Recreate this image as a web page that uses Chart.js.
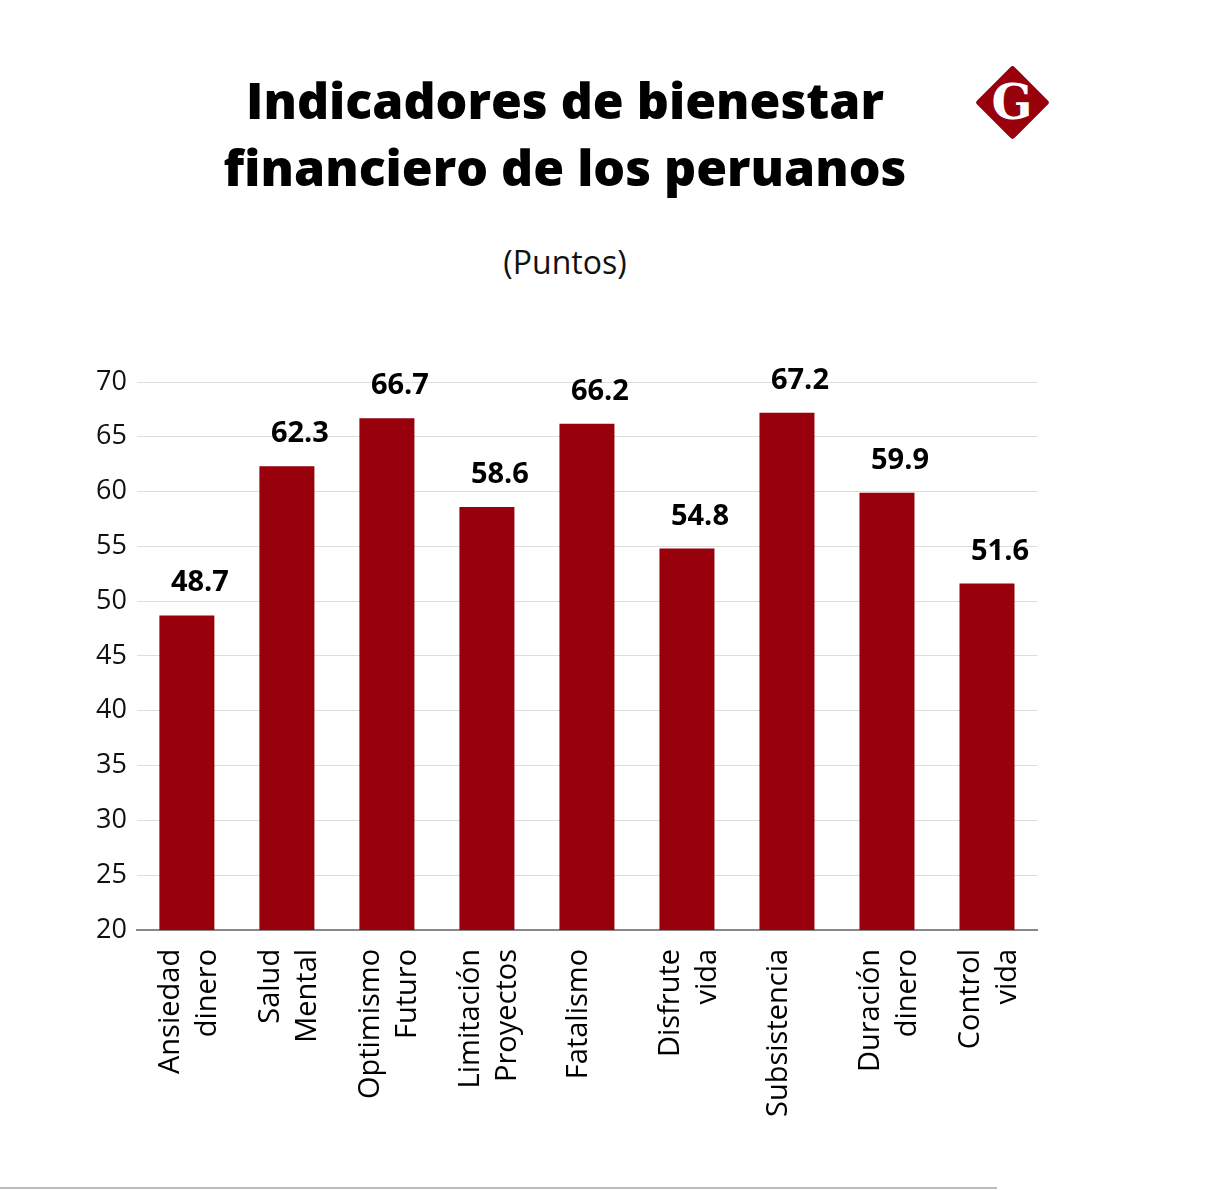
<!DOCTYPE html>
<html>
<head>
<meta charset="utf-8">
<script src="https://cdn.jsdelivr.net/npm/chart.js@4"></script>
<style>
  html, body { margin: 0; padding: 0; background: #fff; }
  body { width: 1208px; height: 1190px; position: relative; overflow: hidden; }
  #titulo {
    position: absolute; left: 0; width: 1130px; top: 67px; text-align: center;
    font-family: "Open Sans", sans-serif; font-weight: 800; font-size: 50px;
    line-height: 67px; color: #000;
  }
  #subtitulo {
    position: absolute; left: 0; width: 1130px; top: 240px; text-align: center;
    font-family: "Open Sans", sans-serif; font-size: 32px; color: #111;
  }
  #logo {
    position: absolute; left: 986px; top: 76px; width: 53px; height: 53px;
    background: #98000b; transform: rotate(45deg); border-radius: 3px;
  }
  #logoG {
    position: absolute; left: 974px; top: 73px; width: 76px; text-align: center;
    font-family: "DejaVu Serif", "Liberation Serif", serif; font-weight: bold;
    font-size: 48px; line-height: 58px; color: #fff;
  }
  #linea {
    position: absolute; left: 0; top: 1187px; width: 997px; height: 2px; background: #bbb;
  }
  #wrap { position: absolute; left: 0; top: 0; width: 1208px; height: 1190px; }
</style>
</head>
<body>
<div id="titulo">Indicadores de bienestar<br>financiero de los peruanos</div>
<div id="subtitulo">(Puntos)</div>
<div id="logo"></div>
<div id="logoG">G</div>
<div id="wrap"><canvas id="grafico"></canvas></div>
<div id="linea"></div>
<script>
const categorias = [
  ["Ansiedad", "dinero"],
  ["Salud", "Mental"],
  ["Optimismo", "Futuro"],
  ["Limitación", "Proyectos"],
  "Fatalismo",
  ["Disfrute", "vida"],
  "Subsistencia",
  ["Duración", "dinero"],
  ["Control", "vida"],
];
const puntos = [48.7, 62.3, 66.7, 58.6, 66.2, 54.8, 67.2, 59.9, 51.6];
const ejeMin = 20;
const ejeMax = 70;
const paso = 5;

const colorBarra = "#98000b";

// etiquetas de valor encima de cada barra
const etiquetasValor = {
  id: "etiquetasValor",
  afterDatasetsDraw(chart) {
    const ctx = chart.ctx;
    const meta = chart.getDatasetMeta(0);
    ctx.save();
    ctx.font = "bold 29px 'Open Sans', sans-serif";
    ctx.fillStyle = "#000";
    ctx.textAlign = "center";
    ctx.textBaseline = "alphabetic";
    meta.data.forEach((bar, i) => {
      ctx.fillText(puntos[i].toFixed(1), bar.x + 13, bar.y - 24);
    });
    ctx.restore();
  },
};

// las etiquetas de una sola linea llevan una linea vacia delante
// para que queden centradas bajo la barra
function esDoble(i) {
  return Array.isArray(categorias[i]);
}

const ctx = document.getElementById("grafico");
new Chart(ctx, {
  type: "bar",
  data: {
    labels: categorias,
    datasets: [
      {
        data: puntos,
        backgroundColor: colorBarra,
        barPercentage: 0.55,
        categoryPercentage: 1,
      },
    ],
  },
  options: {
    responsive: true,
    maintainAspectRatio: false,
    animation: false,
    layout: {
      padding: { top: 382, left: 86, right: 171, bottom: 54 },
    },
    plugins: {
      legend: { display: false },
      tooltip: { enabled: false },
    },
    scales: {
      x: {
        grid: { display: false, drawTicks: false },
        border: { color: "#888", width: 2 },
        ticks: {
          autoSkip: false,
          minRotation: 90,
          maxRotation: 90,
          padding: 19,
          labelOffset: -16,
          color: "#000",
          callback: (v, i) => (esDoble(i) ? categorias[i] : ["", categorias[i]]),
          font: (c) => ({
            family: "'Open Sans', sans-serif",
            size: 29,
            lineHeight: esDoble(c.index) ? "37px" : "8px",
          }),
        },
      },
      y: {
        min: ejeMin,
        max: ejeMax,
        grid: { color: "#ddd", lineWidth: 1, drawTicks: false },
        border: { display: false },
        ticks: {
          stepSize: paso,
          padding: 10,
          color: "#111",
          font: { family: "'Open Sans', sans-serif", size: 27 },
        },
      },
    },
  },
  plugins: [etiquetasValor],
});
</script>
</body>
</html>
